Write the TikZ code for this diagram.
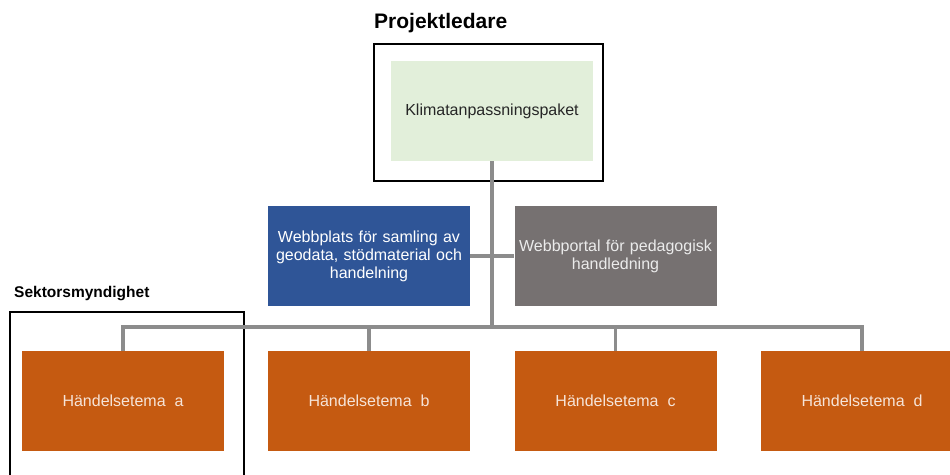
\documentclass[tikz,border=0pt]{standalone}
\usepackage{fontspec}
\setmainfont{Liberation Sans}
\definecolor{greenfill}{HTML}{E2EFDA}
\definecolor{bluefill}{HTML}{2F5597}
\definecolor{grayfill}{HTML}{767171}
\definecolor{orangefill}{HTML}{C55A11}
\definecolor{linegray}{HTML}{8C8C8C}
\definecolor{lighttext}{HTML}{F6E4D8}
\begin{document}
\begin{tikzpicture}[x=1pt,y=-1pt,
  box/.style={minimum width=202pt,minimum height=100pt,inner sep=1pt,align=center,font=\fontsize{16}{18}\selectfont},
  greenbox/.style={box,fill=greenfill,text=black!85},
  bluebox/.style={box,fill=bluefill,text=white,text width=200pt},
  graybox/.style={box,fill=grayfill,text=white!92!black,text width=200pt},
  orangebox/.style={box,fill=orangefill,text=lighttext},
  frame/.style={draw=black,line width=1.6pt},
  conn/.style={draw=linegray,line width=3.2pt},
  title/.style={font=\bfseries,anchor=west,inner sep=0pt}]
\useasboundingbox (0,0) rectangle (950,474);
\clip (0,0) rectangle (950,474);
% frames
\draw[frame] (374,44) rectangle (603,181);
\draw[frame] (10,312) rectangle (244,490);
\node[title,font=\fontsize{21}{24}\bfseries] (pl) at (374,23) {Projektledare};
\node[title,font=\fontsize{15.5}{18}\bfseries] (sm) at (14,294) {Sektorsmyndighet};
% boxes
\node[greenbox] (k) at (492,111) {Klimatanpassningspaket};
\node[bluebox] (w1) at (369,256) {Webbplats för samling av\\geodata, stödmaterial och\\handelning};
\node[graybox] (w2) at (615.5,256) {Webbportal för pedagogisk\\handledning};
\node[orangebox] (a) at (123,401) {Händelsetema\ \ a};
\node[orangebox] (b) at (369,401) {Händelsetema\ \ b};
\node[orangebox] (c) at (615.5,401) {Händelsetema\ \ c};
\node[orangebox] (d) at (862,401) {Händelsetema\ \ d};
% connectors
\coordinate (hub) at (k.south |- 0,327);
\draw[conn] (k.south) -- (hub);
\draw[conn] (w1.east) -- (w2.west);
\draw[conn] (a.north) -- (a.north |- hub) -- (d.north |- hub) -- (d.north);
\draw[conn] (b.north) -- (b.north |- hub);
\draw[conn] (c.north) -- (c.north |- hub);
\end{tikzpicture}
\end{document}
